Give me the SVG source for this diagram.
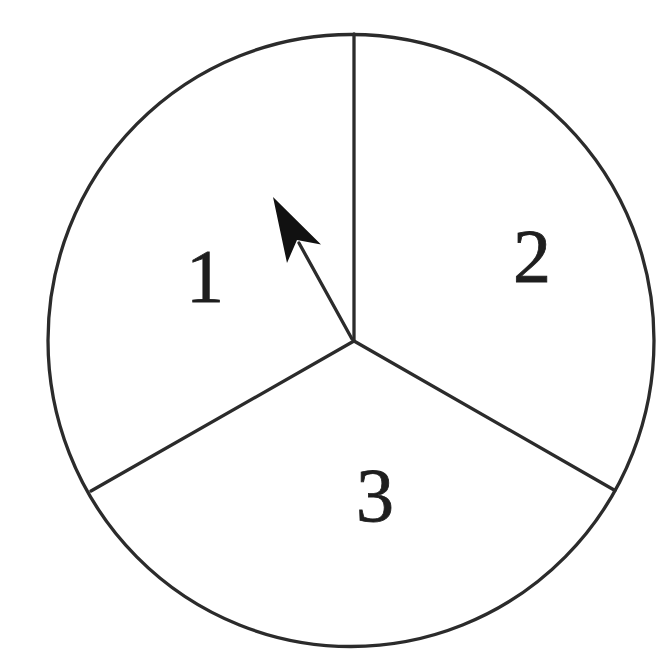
<svg xmlns="http://www.w3.org/2000/svg" width="656" height="657" viewBox="0 0 656 657">
<style>
.ln{stroke:#2b2b2b;stroke-width:3.3;fill:none;stroke-linecap:round}
.lbl{font-family:"Liberation Serif","Times New Roman",serif;font-size:76px;fill:#1e1e1e;stroke:#1e1e1e;stroke-width:0.8;text-anchor:middle}
</style>
<rect width="656" height="657" fill="#ffffff"/>
<g id="spinner">
<ellipse class="ln" cx="351" cy="340.5" rx="303" ry="306"/>
</g>
<g id="connectors">
<line class="ln" x1="354" y1="34" x2="354" y2="341"/>
<line class="ln" x1="354" y1="341" x2="91" y2="491"/>
<line class="ln" x1="354" y1="341" x2="615" y2="490.5"/>
</g>
<g id="pointer">
<line class="ln" x1="352" y1="339" x2="299" y2="243"/>
<polygon points="273,197 321,244.5 297,240 287,263" fill="#111"/>
</g>
<g id="label-1"><text class="lbl" x="205" y="302">1</text></g>
<g id="label-2"><text class="lbl" x="532" y="282">2</text></g>
<g id="label-3"><text class="lbl" x="375" y="521">3</text></g>
</svg>
